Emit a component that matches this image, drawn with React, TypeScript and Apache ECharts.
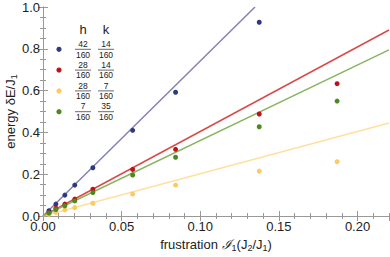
import React, { useEffect, useRef } from "react";
import * as echarts from "echarts";

// frustration values (x) shared by the data sets
const xs = [0.0038, 0.0082, 0.0139, 0.0202, 0.0317, 0.057, 0.0843, 0.1375, 0.187];
const blueY = [0.025, 0.057, 0.1, 0.148, 0.231, 0.41, 0.592, 0.927];
const redY = [0.016, 0.037, 0.057, 0.081, 0.128, 0.223, 0.319, 0.488, 0.633];
const yellowY = [0.008, 0.017, 0.029, 0.04, 0.061, 0.105, 0.148, 0.215, 0.26];
const greenY = [0.014, 0.031, 0.049, 0.072, 0.112, 0.196, 0.281, 0.427, 0.55];

// fitted lines, endpoints
const blueLine = [[0, 0], [0.1348, 1.0]];
const redLine = [[0, 0], [0.22, 0.89]];
const yellowLine = [[0, 0], [0.22, 0.445]];
const greenLine = [[0, 0], [0.22, 0.795]];

// legend entries: h = hNum/den, k = kNum/den (order: blue, red, yellow, green)
const hNum = ["42", "28", "28", "7"];
const kNum = ["14", "14", "7", "35"];
const den = "160";

const dotColors = ["#2e3a80", "#c0101a", "#ffc860", "#4a8a1e"];
const lineColors = ["#8282b4", "#d84a4a", "#ffe0a0", "#8ab460"];
const pointSets = [blueY, redY, yellowY, greenY];
const lineSets = [blueLine, redLine, yellowLine, greenLine];

const FONT = "Liberation Sans, Arial, sans-serif";
const FRAME = "#999999";

function pts(ys: number[]) {
  return ys.map((y, i) => [xs[i], y]);
}

export default function App() {
  const ref = useRef<HTMLDivElement>(null);
  useEffect(() => {
    if (!ref.current) return;
    const chart = echarts.init(ref.current, null, { renderer: "svg" });

    const graphic: any[] = [];
    const col1 = 83;
    const col2 = 106;
    ["h", "k"].forEach((t, j) => {
      graphic.push({
        type: "text",
        x: j === 0 ? col1 : col2,
        y: 29,
        style: { text: t, font: `13px ${FONT}`, fill: "#222", align: "center", verticalAlign: "middle" },
      });
    });
    hNum.forEach((h, i) => {
      const ry = 49.3 + i * 20.8;
      graphic.push({ type: "circle", shape: { cx: 59, cy: ry, r: 2.6 }, style: { fill: dotColors[i] } });
      [
        [col1, h],
        [col2, kNum[i]],
      ].forEach(([cx, num]) => {
        const c = cx as number;
        graphic.push({
          type: "text",
          x: c,
          y: ry - 5.3,
          style: {
            text: num as string,
            font: `8.5px ${FONT}`,
            lineHeight: 8,
            fill: "#222",
            align: "center",
            verticalAlign: "middle",
          },
        });
        graphic.push({
          type: "line",
          shape: { x1: c - 8, y1: ry, x2: c + 8, y2: ry },
          style: { stroke: "#444", lineWidth: 0.8 },
        });
        graphic.push({
          type: "text",
          x: c,
          y: ry + 5.3,
          style: {
            text: den,
            font: `8.5px ${FONT}`,
            lineHeight: 8,
            fill: "#222",
            align: "center",
            verticalAlign: "middle",
          },
        });
      });
    });

    const axisLine = { show: true, lineStyle: { color: FRAME, width: 1 } };
    const baseX = { type: "value", min: 0, max: 0.22, gridIndex: 0 };
    const baseY = { type: "value", min: 0, max: 1.0, gridIndex: 0 };
    const minorTick = { show: true, inside: true, length: 3, lineStyle: { color: FRAME } };
    const majorTick = { show: true, inside: true, length: 5, lineStyle: { color: FRAME } };

    const option: any = {
      animation: false,
      grid: { left: 43, right: 1, top: 7, bottom: 41, containLabel: false, outerBoundsMode: "none" },
      xAxis: [
        {
          ...baseX,
          position: "bottom",
          interval: 0.05,
          axisLine,
          axisTick: majorTick,
          axisLabel: {
            show: true,
            showMaxLabel: false,
            margin: 5,
            fontFamily: FONT,
            fontSize: 13,
            lineHeight: 10,
            color: "#222",
            formatter: (v: number) => v.toFixed(2),
          },
          splitLine: { show: false },
          name: "frustration {s|ℐ}{sub|1}(J{sub|2}/J{sub|1})",
          nameLocation: "middle",
          nameGap: 20.5,
          nameMoveOverlap: false,
          nameTextStyle: {
            fontFamily: FONT,
            fontSize: 13,
            color: "#222",
            rich: {
              sub: { fontFamily: FONT, fontSize: 9, color: "#222", padding: [7, 0, 0, 0] },
              s: { fontFamily: "DejaVu Serif, serif", fontSize: 13, color: "#222", fontStyle: "italic" },
            },
          },
        },
        {
          ...baseX,
          position: "bottom",
          interval: 0.01,
          axisLine: { show: false },
          axisTick: minorTick,
          axisLabel: { show: false },
          splitLine: { show: false },
        },
        {
          ...baseX,
          position: "top",
          interval: 0.05,
          axisLine,
          axisTick: majorTick,
          axisLabel: { show: false },
          splitLine: { show: false },
        },
        {
          ...baseX,
          position: "top",
          interval: 0.01,
          axisLine: { show: false },
          axisTick: minorTick,
          axisLabel: { show: false },
          splitLine: { show: false },
        },
      ],
      yAxis: [
        {
          ...baseY,
          position: "left",
          interval: 0.2,
          axisLine,
          axisTick: majorTick,
          axisLabel: {
            show: true,
            margin: 3,
            fontFamily: FONT,
            fontSize: 13,
            lineHeight: 8,
            color: "#222",
            formatter: (v: number) => v.toFixed(1),
          },
          splitLine: { show: false },
          name: "energy δE/J{sub|1}",
          nameLocation: "middle",
          nameGap: 25,
          nameRotate: 90,
          nameMoveOverlap: false,
          nameTextStyle: {
            fontFamily: FONT,
            fontSize: 13,
            color: "#222",
            rich: {
              sub: { fontFamily: FONT, fontSize: 9, color: "#222", padding: [7, 0, 0, 0] },
            },
          },
        },
        {
          ...baseY,
          position: "left",
          interval: 0.05,
          axisLine: { show: false },
          axisTick: minorTick,
          axisLabel: { show: false },
          splitLine: { show: false },
        },
        {
          ...baseY,
          position: "right",
          interval: 0.2,
          axisLine,
          axisTick: majorTick,
          axisLabel: { show: false },
          splitLine: { show: false },
        },
        {
          ...baseY,
          position: "right",
          interval: 0.05,
          axisLine: { show: false },
          axisTick: minorTick,
          axisLabel: { show: false },
          splitLine: { show: false },
        },
      ],
      series: [
        ...lineSets.map((d, i) => ({
          type: "line",
          data: d,
          showSymbol: false,
          symbol: "none",
          clip: true,
          lineStyle: { color: lineColors[i], width: 1.5 },
          z: 2,
        })),
        ...pointSets.map((ys, i) => ({
          type: "scatter",
          data: pts(ys),
          symbolSize: 5,
          itemStyle: { color: dotColors[i], opacity: 1 },
          z: 3,
        })),
      ],
      graphic,
    };
    chart.setOption(option);
    return () => chart.dispose();
  }, []);
  return <div ref={ref} style={{ position: "absolute", left: 0, top: 0, width: 390, height: 257 }} />;
}
